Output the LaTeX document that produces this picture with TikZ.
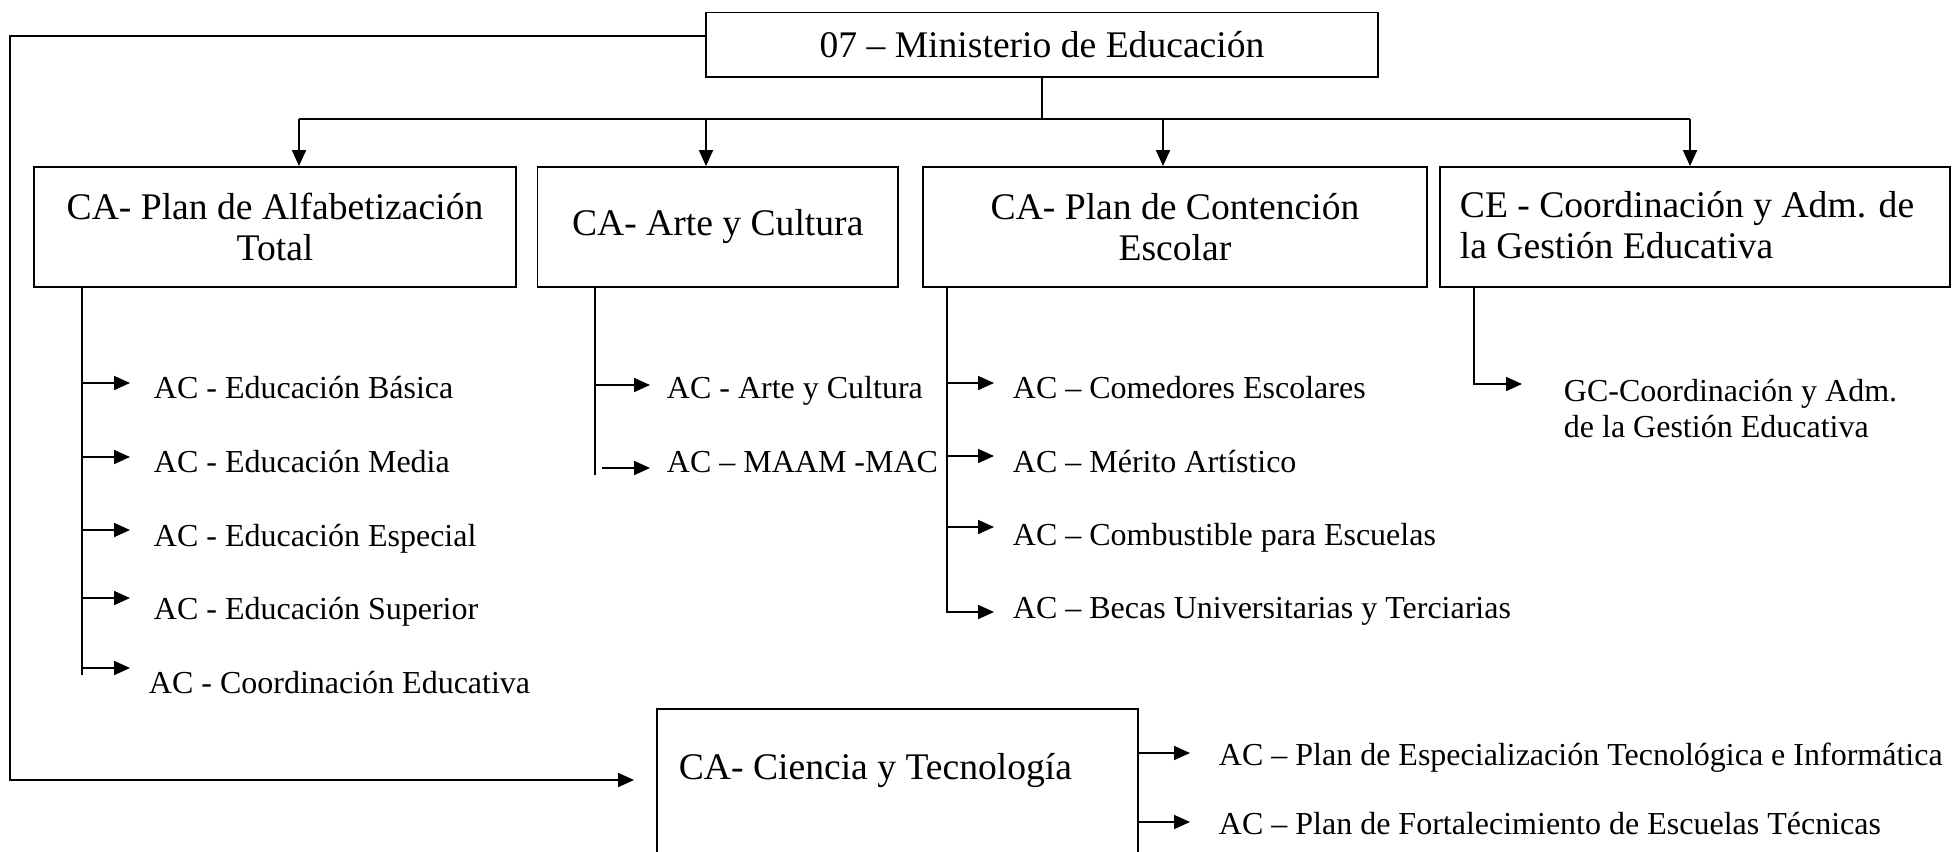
\documentclass[tikz,border=0pt]{standalone}
\usepackage{fontspec}
\setmainfont{Liberation Serif}
\usetikzlibrary{arrows.meta}
\begin{document}
\begin{tikzpicture}[x=0.5pt,y=-0.5pt,line width=0.9pt,
  big/.style={font=\fontsize{18.8pt}{20.5pt}\selectfont},
  box/.style={draw, inner sep=0pt, minimum height=60pt, align=center, big},
  small/.style={font=\fontsize{16pt}{18pt}\selectfont, inner sep=0pt, anchor=base west},
  arr/.style={-{Triangle[length=8pt,width=7pt]}},
]
\useasboundingbox (0,0) rectangle (1952,851);

% boxes
\node[box, minimum width=336pt, minimum height=32.25pt] (min) at (1042,44.75) {07 – Ministerio de Educación};
\node[box, minimum width=241pt] (b1) at (275,227) {CA- Plan de Alfabetización\\Total};
\node[box, minimum width=180.25pt] (b2) at (717.75,227) {CA- Arte y Cultura};
\node[box, minimum width=252pt] (b3) at (1175,227) {CA- Plan de Contención\\Escolar};
\node[box, minimum width=255pt] (b4) at (1695,227) {};
\node[big, align=left, anchor=west, inner sep=0pt] (b4txt) at (1459,225) {CE - Coordinación y Adm. de\\la Gestión Educativa};
\node[box, minimum width=240.5pt, minimum height=85.5pt] (cyt) at (897.5,794.5) {};
\node[big, anchor=base west, inner sep=0pt] (cyttxt) at (678,779) {CA- Ciencia y Tecnología};

% distribution bus
\coordinate (bus) at (1042,119);
\coordinate (a1) at (299,119);
\coordinate (a2) at (706,119);
\coordinate (a3) at (1163,119);
\coordinate (a4) at (1690,119);
\draw (min.south) -- (bus);
\draw (a1) -- (a4);
\draw[arr] (a1) -- (a1 |- b1.north);
\draw[arr] (a2) -- (a2 |- b2.north);
\draw[arr] (a3) -- (a3 |- b3.north);
\draw[arr] (a4) -- (a4 |- b4.north);

% left loop to Ciencia y Tecnologia
\coordinate (l1) at (10,36);
\coordinate (l2) at (10,780);
\coordinate (l3) at (634,780);
\draw[arr] (l1 -| min.west) -- (l1) -- (l2) -- (l3);

% box 1 branches
\coordinate (s1) at (82,675);
\draw (s1 |- b1.south) -- (s1);
\coordinate (p11) at (130,383);
\coordinate (p12) at (130,457);
\coordinate (p13) at (130,530);
\coordinate (p14) at (130,598);
\coordinate (p15) at (130,668);
\draw[arr] (p11 -| s1) -- (p11);
\draw[arr] (p12 -| s1) -- (p12);
\draw[arr] (p13 -| s1) -- (p13);
\draw[arr] (p14 -| s1) -- (p14);
\draw[arr] (p15 -| s1) -- (p15);
\node[small] (t11) at (153,398) {AC - Educación Básica};
\node[small] (t12) at (153,472) {AC - Educación Media};
\node[small] (t13) at (153,546) {AC - Educación Especial};
\node[small] (t14) at (153,619) {AC - Educación Superior};
\node[small] (t15) at (148,693) {AC - Coordinación Educativa};

% box 2 branches
\coordinate (s2) at (595,475);
\draw (s2 |- b2.south) -- (s2);
\coordinate (p21) at (650,385);
\coordinate (q22) at (602,468);
\coordinate (p22) at (650,468);
\draw[arr] (p21 -| s2) -- (p21);
\draw[arr] (q22) -- (p22);
\node[small] (t21) at (666,398) {AC - Arte y Cultura};
\node[small] (t22) at (666,472) {AC – MAAM -MAC};

% box 3 branches
\coordinate (s3) at (947,612);
\coordinate (p31) at (994,383);
\coordinate (p32) at (994,456);
\coordinate (p33) at (994,527);
\coordinate (p34) at (994,612);
\draw[arr] (s3 |- b3.south) -- (s3) -- (p34);
\draw[arr] (p31 -| s3) -- (p31);
\draw[arr] (p32 -| s3) -- (p32);
\draw[arr] (p33 -| s3) -- (p33);
\node[small] (t31) at (1012,398) {AC – Comedores Escolares};
\node[small] (t32) at (1012,472) {AC – Mérito Artístico};
\node[small] (t33) at (1012,545) {AC – Combustible para Escuelas};
\node[small] (t34) at (1012,618) {AC – Becas Universitarias y Terciarias};

% box 4 branch
\coordinate (s4) at (1474,384);
\coordinate (p41) at (1522,384);
\draw[arr] (s4 |- b4.south) -- (s4) -- (p41);
\node[small] (t41) at (1563,401) {\vtop{\hbox{GC-Coordinación y Adm.}\hbox{de la Gestión Educativa}}};

% Ciencia y Tecnologia branches
\coordinate (p51) at (1190,753);
\coordinate (p52) at (1190,822);
\draw[arr] (p51 -| cyt.east) -- (p51);
\draw[arr] (p52 -| cyt.east) -- (p52);
\node[small] (t51) at (1218,765) {AC – Plan de Especialización Tecnológica e Informática};
\node[small] (t52) at (1218,834) {AC – Plan de Fortalecimiento de Escuelas Técnicas};
\end{tikzpicture}
\end{document}
